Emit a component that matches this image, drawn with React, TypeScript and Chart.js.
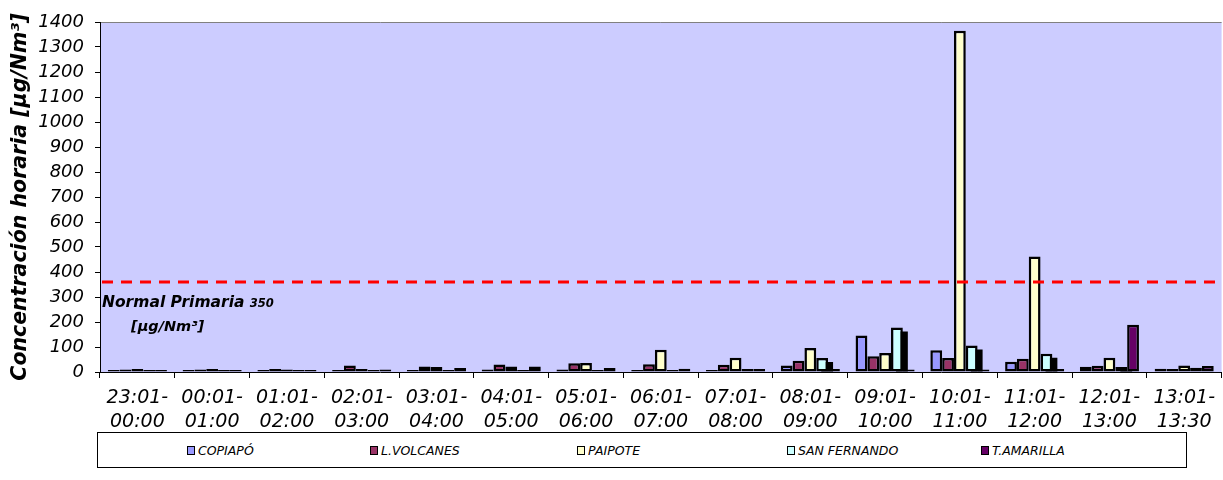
import React, { useEffect, useRef } from "react";
import { Chart, registerables } from "chart.js";

Chart.register(...registerables);

// ---- data ----
const categories: string[][] = [
  ["23:01-", "00:00"],
  ["00:01-", "01:00"],
  ["01:01-", "02:00"],
  ["02:01-", "03:00"],
  ["03:01-", "04:00"],
  ["04:01-", "05:00"],
  ["05:01-", "06:00"],
  ["06:01-", "07:00"],
  ["07:01-", "08:00"],
  ["08:01-", "09:00"],
  ["09:01-", "10:00"],
  ["10:01-", "11:00"],
  ["11:01-", "12:00"],
  ["12:01-", "13:00"],
  ["13:01-", "13:30"],
];

const copiapo = [8, 8, 8, 8, 8, 10, 10, 8, 8, 26, 146, 87, 41, 21, 13];
const lVolcanes = [10, 10, 12, 26, 22, 30, 35, 31, 29, 45, 63, 56, 53, 25, 12];
const paipote = [12, 12, 10, 12, 20, 22, 36, 89, 57, 96, 76, 1365, 462, 57, 26];
const sanFernando = [8, 8, 8, 8, 8, 8, 8, 8, 12, 56, 178, 106, 73, 20, 17];
const tAmarilla = [8, 8, 8, 10, 16, 22, 16, 13, 12, 12, 10, 10, 12, 189, 24];

const seriesNames = ["COPIAPÓ", "L.VOLCANES", "PAIPOTE", "SAN FERNANDO", "T.AMARILLA"];
const seriesValues = [copiapo, lVolcanes, paipote, sanFernando, tAmarilla];
const seriesColors = ["#9999FF", "#993366", "#FFFFCC", "#CCFFFF", "#660066"];

const normValue = 360;
const normLabelText = "Normal Primaria ";
const normLabelNum = "350";
const normLabelUnit = "[µg/Nm³]";
const yTitle = "Concentración horaria [µg/Nm³]";
const yMin = 0;
const yMax = 1400;
const yStep = 100;

const FONT = "'DejaVu Sans', sans-serif";

const decorPlugin = {
  id: "decor",
  beforeDraw(chart: any) {
    const { ctx, chartArea } = chart;
    const { left, top, right, bottom } = chartArea;
    ctx.save();
    ctx.fillStyle = "#CCCCFF";
    ctx.fillRect(left, top, right - left, bottom - top);
    ctx.strokeStyle = "#808080";
    ctx.lineWidth = 1;
    ctx.beginPath();
    ctx.moveTo(left, top + 0.5);
    ctx.lineTo(right, top + 0.5);
    ctx.stroke();
    ctx.restore();
  },
  beforeDatasetsDraw(chart: any) {
    // drop shadow of the SAN FERNANDO series
    const meta = chart.getDatasetMeta(3);
    const ctx = chart.ctx;
    ctx.save();
    ctx.fillStyle = "#000000";
    meta.data.forEach((bar: any) => {
      const p = bar.getProps(["x", "y", "base", "width"], true);
      const sx = 5;
      const sy = 4;
      const t = Math.min(p.y + sy, p.base);
      ctx.fillRect(p.x - p.width / 2 + sx, t, p.width, p.base - t);
    });
    ctx.restore();
  },
  afterDatasetsDraw(chart: any) {
    const { ctx, chartArea } = chart;
    const y = chart.scales.y.getPixelForValue(normValue);
    ctx.save();
    ctx.strokeStyle = "#FF0000";
    ctx.lineWidth = 3;
    ctx.setLineDash([11, 8]);
    ctx.beginPath();
    ctx.moveTo(chartArea.left + 2, y);
    ctx.lineTo(chartArea.right, y);
    ctx.stroke();
    ctx.setLineDash([]);
    ctx.fillStyle = "#000";
    ctx.textBaseline = "alphabetic";
    ctx.textAlign = "left";
    ctx.font = `italic bold 15.5px ${FONT}`;
    const x0 = chartArea.left + 2;
    ctx.fillText(normLabelText, x0, y + 25);
    const w = ctx.measureText(normLabelText).width;
    ctx.font = `italic bold 11.5px ${FONT}`;
    ctx.fillText(normLabelNum, x0 + w, y + 25);
    ctx.font = `italic bold 14.5px ${FONT}`;
    ctx.fillText(normLabelUnit, chartArea.left + 31, y + 49);
    ctx.restore();
  },
};

export default function App() {
  const canvasRef = useRef<HTMLCanvasElement | null>(null);

  useEffect(() => {
    const canvas = canvasRef.current;
    if (!canvas) return;
    const chart = new Chart(canvas, {
      type: "bar",
      data: {
        labels: categories as any,
        datasets: seriesNames.map((name, i) => ({
          label: name,
          data: seriesValues[i],
          backgroundColor: seriesColors[i],
          borderColor: "#000000",
          borderWidth: 2.5,
          borderSkipped: false,
          categoryPercentage: 0.79,
          barPercentage: 1.0,
        })),
      },
      options: {
        responsive: false,
        animation: false,
        layout: { padding: { top: 22, right: 0, bottom: 48, left: 0 } },
        plugins: {
          legend: { display: false },
          tooltip: { enabled: false },
        },
        scales: {
          x: {
            grid: {
              offset: true,
              drawOnChartArea: false,
              drawTicks: true,
              tickLength: 6,
              color: "#000",
              lineWidth: 1,
            },
            border: { color: "#000", width: 1 },
            ticks: {
              color: "#000",
              font: { family: FONT, size: 19, style: "italic", lineHeight: 1.27 },
              maxRotation: 0,
              autoSkip: false,
              padding: 8,
            },
            afterFit: (s: any) => {
              s.height = 60;
            },
          },
          y: {
            min: yMin,
            max: yMax,
            stacked: false,
            ticks: {
              stepSize: yStep,
              color: "#000",
              font: { family: FONT, size: 18, style: "italic" },
              padding: 11,
              callback: (v: any) => String(v),
            },
            grid: { drawOnChartArea: false, tickLength: 5, color: "#000" },
            border: { color: "#000", width: 1 },
            title: {
              display: true,
              text: yTitle,
              color: "#000",
              font: { family: FONT, size: 20.5, style: "italic", weight: "bold" },
              padding: { top: 8, bottom: 0 },
            },
            afterFit: (s: any) => {
              s.width = 100;
            },
          },
        },
      },
      plugins: [decorPlugin],
    } as any);
    return () => chart.destroy();
  }, []);

  const legendOffsets = [89, 272, 479, 689, 883];

  return (
    <div style={{ position: "absolute", left: 0, top: 0, width: 1223, height: 480, background: "#fff" }}>
      <canvas
        ref={canvasRef}
        width={1223}
        height={480}
        style={{ position: "absolute", left: 0, top: 0, width: 1223, height: 480 }}
      />
      <div
        style={{
          position: "absolute",
          left: 97,
          top: 432,
          width: 1090,
          height: 36,
          border: "1px solid #000",
          boxSizing: "border-box",
          background: "#fff",
        }}
      >
        {seriesNames.map((name, i) => (
          <div
            key={name}
            style={{
              position: "absolute",
              left: legendOffsets[i],
              top: 0,
              height: 34,
              display: "flex",
              alignItems: "center",
              whiteSpace: "nowrap",
            }}
          >
            <span
              style={{
                display: "inline-block",
                width: 6,
                height: 7,
                border: "1px solid #000",
                background: seriesColors[i],
                marginRight: 3,
              }}
            />
            <span style={{ fontFamily: FONT, fontStyle: "italic", fontSize: 12.5, color: "#000" }}>{name}</span>
          </div>
        ))}
      </div>
    </div>
  );
}
